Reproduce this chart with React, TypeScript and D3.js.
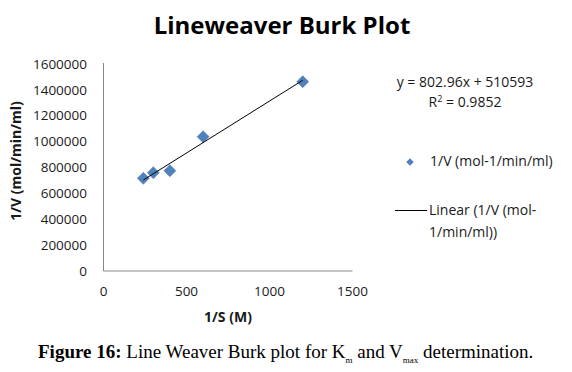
import React from 'react';
import * as d3 from 'd3';

// 1/S (M) and 1/V (mol/min/ml) readings
const invS = [240, 300, 400, 600, 1200];
const invV = [716000, 760000, 775000, 1038000, 1463000];

const xTicks = [0, 500, 1000, 1500];
const yTicks = [0, 200000, 400000, 600000, 800000, 1000000, 1200000, 1400000, 1600000];

// trendline shown on the chart
const slope = 802.96;
const intercept = 510593;
const rSquared = 0.9852;

const W = 572;
const H = 372;
const sans = "'Open Sans', sans-serif";
const blue = '#4F81BD';

const App: React.FC = () => {
  const x = d3.scaleLinear().domain([0, 1500]).range([103.5, 352.5]);
  const y = d3.scaleLinear().domain([0, 1600000]).range([271, 64]);

  const pts = invS.map((s, i) => ({ s, v: invV[i] }));
  const diamond = d3.symbol().type(d3.symbolSquare).size(72)()!;
  const smallDiamond = d3.symbol().type(d3.symbolSquare).size(28)()!;

  const [x0, x1] = d3.extent(invS) as [number, number];
  const trend = d3.line<number>()
    .x(d => x(d))
    .y(d => y(slope * d + intercept))([x0, x1]);

  return (
    <svg width={W} height={H} style={{ position: 'absolute', left: 0, top: 0, background: '#fff' }}>
      {/* title */}
      <text x={282} y={34} textAnchor="middle" fontFamily={sans} fontWeight="bold" fontSize={24} fill="#000">
        Lineweaver Burk Plot
      </text>

      {/* axes */}
      <line x1={x(0)} x2={x(0)} y1={y(1600000) - 1} y2={y(0)} stroke="#868686" />
      <line x1={x(0)} x2={x(1500)} y1={y(0)} y2={y(0)} stroke="#868686" />

      {yTicks.map(t => (
        <text key={t} x={87} y={y(t)} dy="0.35em" textAnchor="end" fontFamily={sans} fontSize={13.5} fill="#1a1a1a">
          {t}
        </text>
      ))}
      {xTicks.map(t => (
        <text key={t} x={x(t)} y={296} textAnchor="middle" fontFamily={sans} fontSize={13.5} fill="#1a1a1a">
          {t}
        </text>
      ))}

      <text x={228} y={322} textAnchor="middle" fontFamily={sans} fontWeight="bold" fontSize={14} fill="#1a1a1a">
        1/S (M)
      </text>
      <text transform="translate(21,161) rotate(-90)" textAnchor="middle" fontFamily={sans} fontWeight="bold" fontSize={14} fill="#1a1a1a">
        1/V (mol/min/ml)
      </text>

      {/* points */}
      {pts.map((p, i) => (
        <path key={i} d={diamond} transform={`translate(${x(p.s)},${y(p.v)}) rotate(45)`} fill={blue} stroke="#4575b0" strokeWidth={0.5} />
      ))}
      <path d={trend!} stroke="#000" strokeWidth={1} fill="none" />

      {/* equation */}
      <text x={465} y={87} textAnchor="middle" fontFamily={sans} fontSize={14} fill="#1a1a1a">
        y = 802.96x + 510593
      </text>
      <text x={465} y={107} textAnchor="middle" fontFamily={sans} fontSize={14} fill="#1a1a1a">
        R<tspan dy={-5} fontSize={9}>2</tspan><tspan dy={5}> = {rSquared}</tspan>
      </text>

      {/* legend */}
      <path d={smallDiamond} transform="translate(410,162) rotate(45)" fill={blue} />
      <text x={430} y={166} fontFamily={sans} fontSize={14} fill="#1a1a1a">1/V (mol-1/min/ml)</text>
      <line x1={395} x2={427} y1={210.5} y2={210.5} stroke="#000" />
      <text x={429} y={215} fontFamily={sans} fontSize={14} fill="#1a1a1a">Linear (1/V (mol-</text>
      <text x={429} y={237} fontFamily={sans} fontSize={14} fill="#1a1a1a">1/min/ml))</text>

      {/* caption */}
      <text x={38} y={358} fontFamily="'Liberation Serif', serif" fontSize={19} fill="#000">
        <tspan fontWeight="bold">Figure 16:</tspan> Line Weaver Burk plot for K
        <tspan dy={5} fontSize={9}>m</tspan>
        <tspan dy={-5}> and V</tspan>
        <tspan dy={5} fontSize={9}>max</tspan>
        <tspan dy={-5}> determination.</tspan>
      </text>
    </svg>
  );
};

export default App;
